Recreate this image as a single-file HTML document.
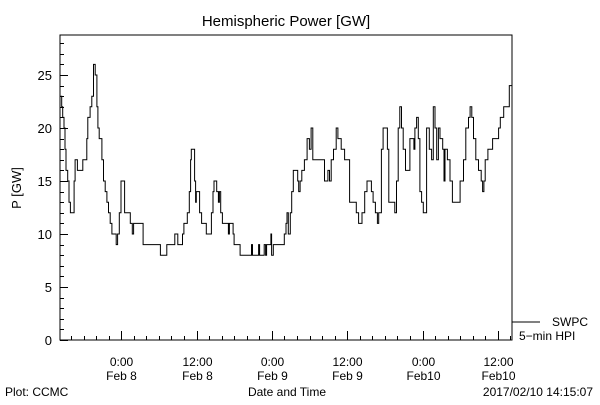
<!DOCTYPE html>
<html><head><meta charset="utf-8"><style>
body{margin:0;background:#fff}
svg text{font-family:"Liberation Sans",sans-serif;fill:#000}
</style></head><body>
<svg id="chart" width="600" height="400" xmlns="http://www.w3.org/2000/svg">
<text x="286" y="26" font-size="15" text-anchor="middle">Hemispheric Power [GW]</text>
<text transform="translate(21,188) rotate(-90)" font-size="13" text-anchor="middle">P [GW]</text>
<text x="287" y="396" font-size="12" text-anchor="middle">Date and Time</text>
<text x="5" y="396" font-size="12">Plot: CCMC</text>
<text x="593" y="396" font-size="12" text-anchor="end">2017/02/10 14:15:07</text>
<rect x="60" y="35" width="452" height="305" fill="none" stroke="#000" stroke-width="1"/>
<line x1="512" y1="322" x2="540" y2="322" stroke="#000"/>
<text x="552" y="326" font-size="12">SWPC</text>
<text x="519" y="340" font-size="12">5−min HPI</text>
<g id="axes"></g>
<path id="series" fill="none" stroke="#000" stroke-width="1"/>
</svg>
<script>
const hours=[0.1,0.27,0.43,0.64,0.8,0.96,1.23,1.44,1.65,2.03,2.24,2.4,2.67,2.77,3.57,3.63,4.0,4.27,4.43,4.8,5.07,5.33,5.6,5.87,6.03,6.24,6.51,6.67,6.93,7.2,7.47,7.73,8.0,8.27,8.8,8.96,9.17,9.44,9.71,10.03,10.29,11.04,11.2,11.52,11.73,12.8,13.23,15.89,16.0,16.91,17.01,18.13,18.29,18.56,18.77,19.36,19.52,19.73,20.11,20.27,20.59,20.8,20.91,21.23,21.44,21.6,21.71,22.03,22.24,22.56,22.83,23.31,24.0,24.11,24.37,24.53,24.85,24.96,25.23,25.39,25.6,25.87,26.51,26.83,26.99,27.36,27.57,27.73,28.53,28.69,30.4,30.51,30.67,31.47,31.63,31.79,32.27,32.53,32.75,32.91,33.44,33.6,33.71,33.97,35.57,35.73,36.0,36.16,36.37,36.69,36.91,37.17,37.6,37.87,38.03,38.24,38.51,38.93,39.36,39.73,40.0,40.27,41.76,42.13,42.67,42.93,43.2,43.57,44.0,44.27,44.8,45.33,46.13,46.83,47.2,47.57,47.89,48.11,48.53,48.91,49.33,49.6,49.87,50.24,50.56,50.77,51.2,51.47,52.0,52.16,52.37,52.91,53.33,53.6,53.87,54.13,54.4,54.67,55.04,55.36,55.73,56.16,56.37,56.53,56.8,57.07,57.33,57.6,57.87,58.24,58.4,58.67,58.83,59.2,59.47,59.73,60.0,60.27,60.53,60.96,61.17,61.33,61.71,62.13,62.51,63.36,63.73,64.27,64.64,65.07,65.33,65.6,65.87,66.24,66.67,67.09,67.31,67.52,67.73,68.16,68.91,69.87,70.13,70.67,71.2,71.57,71.9,72.0];
const power=[23,22,21,20,18,16,15,13,12,12,15,17,17,16,16,17,17,19,21,22,23,26,25,22,20,19,19,17,15,14,13,12,11,10,10,9,10,12,15,15,12,12,11,10,11,11,9,9,8,8,9,9,10,10,9,9,10,11,11,12,14,17,18,18,15,13,14,14,12,11,11,10,10,12,14,15,15,14,13,14,12,11,11,10,11,11,10,9,9,8,8,9,8,8,9,8,8,9,8,9,9,10,8,9,9,10,11,12,10,12,14,16,16,15,14,15,16,17,19,18,20,17,17,15,16,15,17,18,20,19,18,17,13,13,12,11,11,12,14,15,15,14,13,12,11,12,18,20,20,18,13,13,12,15,20,22,20,18,16,16,19,19,18,20,21,19,14,13,12,12,20,20,18,17,22,20,17,20,19,18,15,18,17,15,13,13,15,17,20,21,22,21,19,17,16,15,14,15,17,18,19,20,21,22,22,24,24,25];
const yTickLabels=["0","5","10","15","20","25"];
const xMajorHours=[9.75,21.75,33.75,45.75,57.75,69.75];
const xTimeLabels=["0:00","12:00","0:00","12:00","0:00","12:00"];
const xDateLabels=["Feb 8","Feb 8","Feb 9","Feb 9","Feb10","Feb10"];
const X0=60,X1=512,Y0=340,Y1=35,HMAX=72,PMAX=(Y0-Y1)/10.6;
const xs=h=>X0+(h/HMAX)*(X1-X0);
const ys=v=>Y0-(v/PMAX)*(Y0-Y1);
const NS="http://www.w3.org/2000/svg";
const axes=document.getElementById('axes');
function ln(x1,y1,x2,y2){const l=document.createElementNS(NS,'line');l.setAttribute('x1',x1);l.setAttribute('y1',y1);l.setAttribute('x2',x2);l.setAttribute('y2',y2);l.setAttribute('stroke','#000');axes.appendChild(l);return l;}
for(let v=0;v<=28;v++){const y=Math.round(ys(v))+0.5;const t=ln(X0,y,X0+(v%5?4:8),y);

}
yTickLabels.forEach(s=>{const t=document.createElementNS(NS,'text');t.setAttribute('x',X0-8);t.setAttribute('y',ys(+s)+5);t.setAttribute('font-size','13');t.setAttribute('text-anchor','end');t.textContent=s;


axes.appendChild(t);});
for(let h=xMajorHours[0]%2;h<=HMAX;h+=2){const x=Math.round(xs(h))+0.5;const t=ln(x,Y0,x,Y0-4);

}
xMajorHours.forEach((h,i)=>{const x=Math.round(xs(h))+0.5;const t=ln(x,Y0,x,Y0-9);


[[xTimeLabels[i],366],[xDateLabels[i],380]].forEach(([s,y])=>{const e=document.createElementNS(NS,'text');e.setAttribute('x',x);e.setAttribute('y',y);e.setAttribute('font-size','12');e.setAttribute('text-anchor','middle');e.textContent=s;


axes.appendChild(e);});});
let d='';
hours.forEach((h,i)=>{const x=xs(Math.min(h,HMAX)).toFixed(1),y=ys(power[i]).toFixed(1);
if(i===0)d+='M'+x+' '+y;else d+=' H'+x+' V'+y;});
document.getElementById('series').setAttribute('d',d);
</script>
</body></html>
